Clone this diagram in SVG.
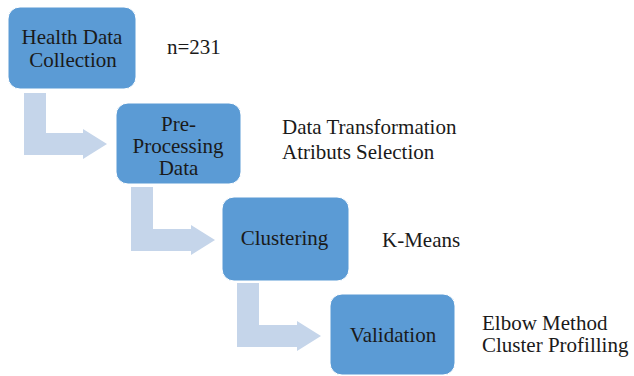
<svg xmlns="http://www.w3.org/2000/svg" width="634" height="376" viewBox="0 0 634 376">
<style>
.box{fill:#5B9BD5;stroke:#ffffff;stroke-width:1}
.arr{fill:#C5D5EA;stroke:none}
text{font-size:21px;fill:#1a1a1a}
.c{text-anchor:middle}
</style>
<rect width="634" height="376" fill="#ffffff"/>
<g id="connectors">
<path class="arr" d="M24,93 H46 V133 H83 V129 L107,144 L83,159 V155 H24 Z"/>
<path class="arr" d="M131,187 H153 V229 H191 V225 L215,240 L191,255 V251 H131 Z"/>
<path class="arr" d="M237,283 H259 V325 H297 V321 L321,336 L297,351 V347 H237 Z"/>
</g>
<g id="node-health">
<rect class="box" x="8" y="7" width="128" height="82" rx="12"/>
<text class="c" x="72" y="44" font-family="Liberation Serif">Health Data</text>
<text class="c" x="73" y="67" font-family="Liberation Serif">Collection</text>
</g>
<g id="note-n">
<text x="167" y="54" font-family="Liberation Serif">n=231</text>
</g>
<g id="node-preprocessing">
<rect class="box" x="116" y="103" width="125" height="81" rx="12"/>
<text class="c" x="178.5" y="131" font-family="Liberation Serif">Pre-</text>
<text class="c" x="178" y="153" font-family="Liberation Serif">Processing</text>
<text class="c" x="178.5" y="175" font-family="Liberation Serif">Data</text>
</g>
<g id="note-pre">
<text x="282" y="134" font-family="Liberation Serif">Data Transformation</text>
<text x="282" y="159" font-family="Liberation Serif">Atributs Selection</text>
</g>
<g id="node-clustering">
<rect class="box" x="222" y="197" width="127" height="84" rx="12"/>
<text class="c" x="284.5" y="245" font-family="Liberation Serif">Clustering</text>
</g>
<g id="note-kmeans">
<text x="382" y="247" font-family="Liberation Serif">K-Means</text>
</g>
<g id="node-validation">
<rect class="box" x="330" y="294" width="125" height="81" rx="12"/>
<text class="c" x="393" y="342" font-family="Liberation Serif">Validation</text>
</g>
<g id="note-validation">
<text x="482" y="330" font-family="Liberation Serif">Elbow Method</text>
<text x="482" y="352" font-family="Liberation Serif">Cluster Profilling</text>
</g>
</svg>
